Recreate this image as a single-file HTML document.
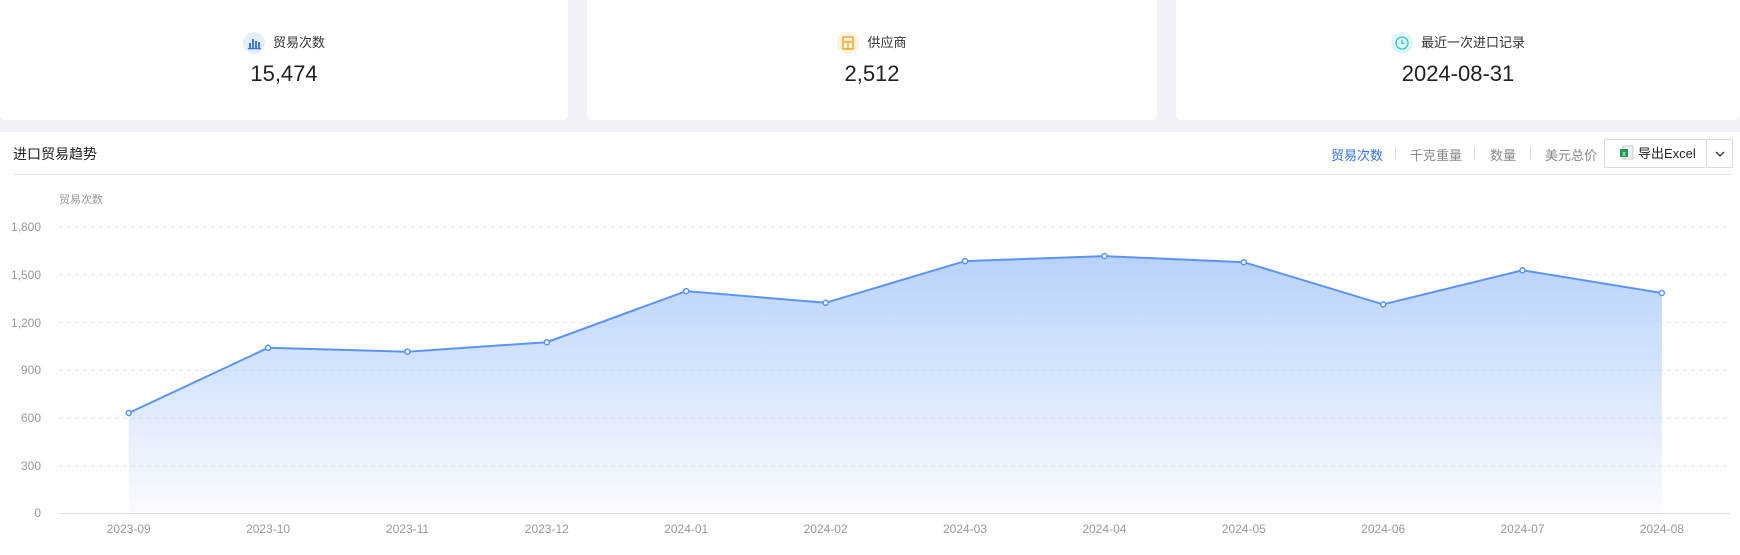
<!DOCTYPE html>
<html><head><meta charset="utf-8">
<style>
*{margin:0;padding:0;box-sizing:border-box}
body{width:1740px;height:555px;background:#f1f2f7;font-family:"Liberation Sans","Noto Sans CJK SC",sans-serif;position:relative;overflow:hidden;color:#222}
.card{position:absolute;top:0;height:120px;background:#fff;border-radius:0 0 6px 6px}
.lab{position:absolute;top:32px;left:0;right:0;text-align:center;font-size:13px;color:#333;line-height:22px}
.ic{display:inline-block;width:22px;height:22px;border-radius:50%;vertical-align:middle;margin-right:8px;position:relative;top:-1px}
.num{position:absolute;top:60px;left:0;right:0;text-align:center;font-size:22px;color:#222;line-height:28px}
.panel{position:absolute;top:132px;left:0;width:1740px;height:423px;background:#fff}
.title{position:absolute;left:13px;top:12px;font-size:14px;color:#222}
.div{position:absolute;left:13px;right:7px;top:42px;height:1px;background:#e4e4e4}
.tab{position:absolute;top:13px;font-size:13px;color:#888}
.sep{position:absolute;top:16px;width:1px;height:12px;background:#ddd}
.btn{position:absolute;top:7px;height:29px;border:1px solid #dcdcdc;border-radius:2px;background:#fff;font-size:13px;color:#222;line-height:27px}
</style></head><body>
<div class="card" style="left:0;width:568px">
 <div class="lab"><span class="ic" style="background:#e6eefc"><svg width="22" height="22"><rect x="6" y="11" width="2" height="5" fill="#3a78e8"/><rect x="9" y="7" width="2" height="9" fill="#3a78e8"/><rect x="12" y="9" width="2" height="7" fill="#3a78e8"/><rect x="15" y="10" width="2" height="6" fill="#3a78e8"/><rect x="5" y="16" width="13" height="1.3" fill="#3a78e8"/></svg></span>贸易次数</div>
 <div class="num">15,474</div>
</div>
<div class="card" style="left:587px;width:570px">
 <div class="lab"><span class="ic" style="background:#fdf1e0"><svg width="22" height="22"><rect x="6" y="5" width="10" height="12" fill="none" stroke="#f5a623" stroke-width="1.4"/><line x1="6" y1="10" x2="16" y2="10" stroke="#f5a623" stroke-width="1.4"/><line x1="11" y1="10" x2="11" y2="17" stroke="#f5a623" stroke-width="1.4"/></svg></span>供应商</div>
 <div class="num">2,512</div>
</div>
<div class="card" style="left:1176px;width:564px">
 <div class="lab"><span class="ic" style="background:#e0f7f7"><svg width="22" height="22"><circle cx="11" cy="11" r="6" fill="none" stroke="#2ec7c9" stroke-width="1.3"/><path d="M11 8v3.5h2.5" fill="none" stroke="#2ec7c9" stroke-width="1.3"/></svg></span>最近一次进口记录</div>
 <div class="num">2024-08-31</div>
</div>
<div class="panel">
 <div class="title">进口贸易趋势</div>
 <div class="div"></div>
 <div class="tab" style="left:1331px;color:#2f6fe8">贸易次数</div>
 <div class="sep" style="left:1395px"></div>
 <div class="tab" style="left:1410px">千克重量</div>
 <div class="sep" style="left:1474px"></div>
 <div class="tab" style="left:1490px">数量</div>
 <div class="sep" style="left:1530px"></div>
 <div class="tab" style="left:1545px">美元总价</div>
 <div class="btn" style="left:1604px;width:103px;padding-left:14px"><svg width="16" height="16" style="vertical-align:-3px;margin-right:3px"><rect x="4" y="1" width="10" height="13" fill="#f1f1f1" stroke="#ccc"/><rect x="1" y="4" width="8" height="8" fill="#1f9d55"/><text x="5" y="11" font-size="7" fill="#fff" text-anchor="middle" font-family="Liberation Sans">x</text></svg>导出Excel</div>
 <div class="btn" style="left:1706px;width:27px;text-align:center"><svg width="10" height="8"><path d="M1 2l4 4 4-4" fill="none" stroke="#333" stroke-width="1.3"/></svg></div>
</div>
<svg width="1740" height="555" style="position:absolute;left:0;top:0" font-family="Liberation Sans,Noto Sans CJK SC,sans-serif">
 <defs><linearGradient id="g" x1="0" y1="0" x2="0" y2="1"><stop offset="0" stop-color="#b8d2fb"/><stop offset="1" stop-color="#b8d2fb" stop-opacity="0.08"/></linearGradient></defs>
 <text x="59" y="203" font-size="11" fill="#999">贸易次数</text>
 <g stroke="#e3e3e3" stroke-dasharray="4,4">
  <line x1="59" x2="1731" y1="227" y2="227"/><line x1="59" x2="1731" y1="274.8" y2="274.8"/><line x1="59" x2="1731" y1="322.6" y2="322.6"/><line x1="59" x2="1731" y1="370.4" y2="370.4"/><line x1="59" x2="1731" y1="418.2" y2="418.2"/><line x1="59" x2="1731" y1="466" y2="466"/>
 </g>
 <line x1="59" x2="1731" y1="513.5" y2="513.5" stroke="#e0e0e0"/>
 <g font-size="12" fill="#999" text-anchor="end">
  <text x="41" y="231">1,800</text><text x="41" y="279">1,500</text><text x="41" y="327">1,200</text><text x="41" y="374">900</text><text x="41" y="422">600</text><text x="41" y="470">300</text><text x="41" y="517">0</text>
 </g>
 <path d="M128.7,413 L268.1,347.8 L407.5,351.7 L546.8,342.2 L686.2,291.1 L825.6,302.8 L965,261.1 L1104.4,256.1 L1243.8,262.2 L1383.2,304.4 L1522.5,270.3 L1661.9,293 L1661.9,513 L128.7,513Z" fill="url(#g)"/>
 <polyline points="128.7,413 268.1,347.8 407.5,351.7 546.8,342.2 686.2,291.1 825.6,302.8 965,261.1 1104.4,256.1 1243.8,262.2 1383.2,304.4 1522.5,270.3 1661.9,293" fill="none" stroke="#5b94f7" stroke-width="2"/>
 <g fill="#fff" stroke="#5b94f7" stroke-width="1.5">
  <circle cx="128.7" cy="413" r="2.5"/><circle cx="268.1" cy="347.8" r="2.5"/><circle cx="407.5" cy="351.7" r="2.5"/><circle cx="546.8" cy="342.2" r="2.5"/><circle cx="686.2" cy="291.1" r="2.5"/><circle cx="825.6" cy="302.8" r="2.5"/><circle cx="965" cy="261.1" r="2.5"/><circle cx="1104.4" cy="256.1" r="2.5"/><circle cx="1243.8" cy="262.2" r="2.5"/><circle cx="1383.2" cy="304.4" r="2.5"/><circle cx="1522.5" cy="270.3" r="2.5"/><circle cx="1661.9" cy="293" r="2.5"/>
 </g>
 <g font-size="12" fill="#999" text-anchor="middle">
  <text x="128.7" y="533">2023-09</text><text x="268.1" y="533">2023-10</text><text x="407.5" y="533">2023-11</text><text x="546.8" y="533">2023-12</text><text x="686.2" y="533">2024-01</text><text x="825.6" y="533">2024-02</text><text x="965" y="533">2024-03</text><text x="1104.4" y="533">2024-04</text><text x="1243.8" y="533">2024-05</text><text x="1383.2" y="533">2024-06</text><text x="1522.5" y="533">2024-07</text><text x="1661.9" y="533">2024-08</text>
 </g>
</svg>
</body></html>
